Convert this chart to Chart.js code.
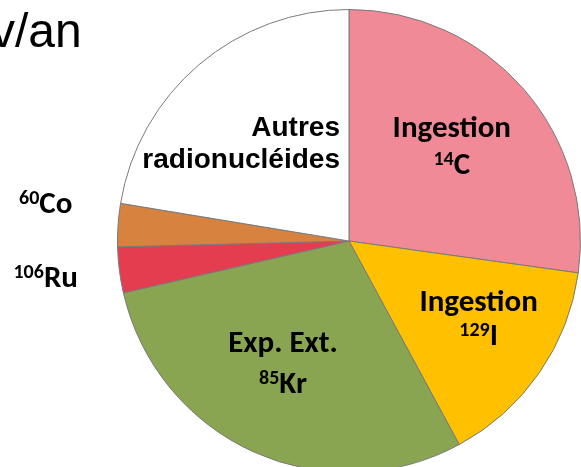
<!DOCTYPE html>
<html>
<head>
<meta charset="utf-8">
<script src="https://cdn.jsdelivr.net/npm/chart.js@4"></script>
<style>
html,body{margin:0;padding:0;background:#fff;overflow:hidden;width:581px;height:467px;}
#c{display:block;}
</style>
</head>
<body>
<canvas id="c" width="581" height="481"></canvas>
<script>
// Data (clockwise from 12 o'clock)
const categories = ["Ingestion 14C", "Ingestion 129I", "Exp. Ext. 85Kr", "106Ru", "60Co", "Autres radionucléides"];
const values = [27.2, 14.9, 29.3, 3.2, 3.0, 22.4];
const colors = ["#F08A96", "#FFC000", "#8AA551", "#E43D50", "#D8823F", "#FFFFFF"];
// label lines: [superscript, main] pairs per line
const labelLines = [
  [["", "Ingestion"], ["14", "C"]],
  [["", "Ingestion"], ["129", "I"]],
  [["", "Exp. Ext."], ["85", "Kr"]],
  [["106", "Ru"]],
  [["60", "Co"]],
  [["", "Autres"], ["", "radionucléides"]]
];
const titleText = "v/an";

// label anchor positions relative to pie centre, in units of radius (dx, dy of first baseline)
const labelAnchor = [
  {x: 0.444, y: -0.448, lh: 0.160, align: "center"},
  {x: 0.560, y: 0.302, lh: 0.147, align: "center"},
  {x: -0.285, y: 0.478, lh: 0.177, align: "center"},
  {x: -1.31, y: 0.198, lh: 0, align: "center"},
  {x: -1.31, y: -0.121, lh: 0, align: "center"},
  {x: -0.039, y: -0.453, lh: 0.138, align: "right"}
];

const MAINFONT = "bold 31px Carlito, Lato, sans-serif";
const SUPFONT = "bold 20px Carlito, Lato, sans-serif";
const ARIALBOLD = "bold 28px 'Liberation Sans', Arial, sans-serif";

const labelPlugin = {
  id: "labels",
  afterDraw(chart) {
    const ctx = chart.ctx;
    const arc = chart.getDatasetMeta(0).data[0];
    const cx = arc.x, cy = arc.y, r = arc.outerRadius;
    ctx.save();
    ctx.fillStyle = "#000";
    ctx.textBaseline = "alphabetic";
    labelLines.forEach((lines, i) => {
      const a = labelAnchor[i];
      const isArial = (i === 5);
      lines.forEach((ln, j) => {
        const [sup, main] = ln;
        const mf = isArial ? ARIALBOLD : MAINFONT;
        ctx.font = SUPFONT; const ws = sup ? ctx.measureText(sup).width : 0;
        ctx.font = mf; const wm = ctx.measureText(main).width;
        const tw = ws + wm;
        const ax = cx + a.x * r;
        const by = cy + (a.y + j * a.lh) * r;
        let x0 = a.align === "right" ? ax - tw : ax - tw / 2;
        ctx.textAlign = "left";
        if (sup) { ctx.font = SUPFONT; ctx.fillText(sup, x0, by - 9); }
        ctx.font = mf; ctx.fillText(main, x0 + ws, by);
      });
    });
    ctx.font = "48px 'Liberation Sans', Arial, sans-serif";
    ctx.textAlign = "left";
    ctx.fillText(titleText, -9, 47);
    ctx.restore();
  }
};

new Chart(document.getElementById("c"), {
  type: "pie",
  data: {
    labels: categories,
    datasets: [{
      data: values,
      backgroundColor: colors,
      borderColor: "#7a7a7a",
      borderWidth: 1,
      hoverOffset: 0
    }]
  },
  options: {
    responsive: false,
    devicePixelRatio: 1,
    animation: false,
    layout: {padding: {left: 117, top: 9, right: 0, bottom: 8}},
    plugins: {legend: {display: false}, tooltip: {enabled: false}, title: {display: false}}
  },
  plugins: [labelPlugin]
});
</script>
</body>
</html>
